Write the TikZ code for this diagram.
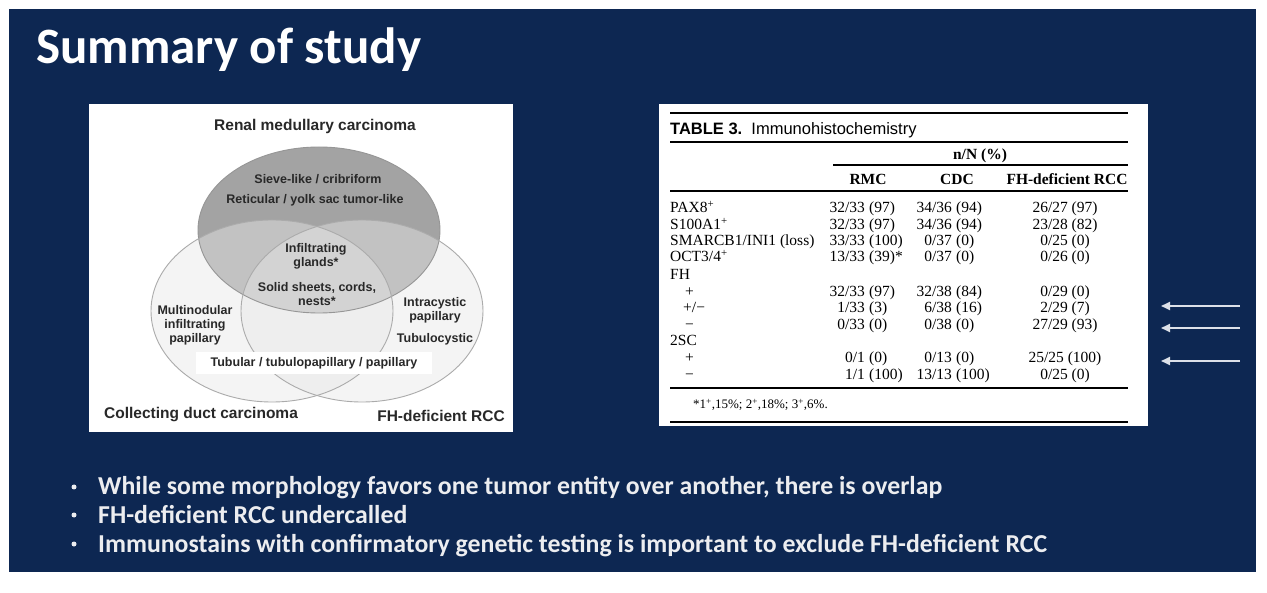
\documentclass[tikz,border=0pt]{standalone}
\usepackage{fontspec}
\setmainfont{Liberation Serif}
\newfontfamily\slidefont{Carlito}
\newfontfamily\vennfont{Liberation Sans}
\newfontfamily\tabsans{Liberation Sans}
\usetikzlibrary{arrows.meta}
\definecolor{navy}{RGB}{13,39,82}
\definecolor{rmcgray}{RGB}{163,163,163}
\definecolor{lowgray}{RGB}{232,232,232}
\definecolor{ringgray}{RGB}{150,150,150}
\definecolor{venntext}{RGB}{40,40,40}
\definecolor{arrowwhite}{RGB}{220,224,232}
\definecolor{bullettext}{RGB}{236,237,240}
\tikzset{
  vlab/.style={font=\vennfont\bfseries\fontsize{12.5}{15}\selectfont, text=venntext, align=center, inner sep=0},
  vbig/.style={font=\vennfont\bfseries\fontsize{15.5}{18}\selectfont, text=venntext, inner sep=0},
  tcell/.style={font=\fontsize{15.5}{16}\selectfont, inner sep=0, text=black},
  thead/.style={font=\bfseries\fontsize{15.5}{16}\selectfont, inner sep=0, text=black},
  bul/.style={font=\slidefont\bfseries\fontsize{25.8}{28}\selectfont, text=bullettext, inner sep=0, anchor=base west},
  buldot/.style={circle, fill=bullettext, inner sep=0, minimum size=5pt},
  arr/.style={draw=arrowwhite, line width=2pt, -{Triangle[length=9pt,width=8pt]}},
}
\newcommand\rmc[3]{\node[tcell,anchor=base east] (rmcn#1) at (865,#1) {#2};\node[tcell,anchor=base west] (rmcp#1) at (869,#1) {#3};}
\newcommand\cdc[3]{\node[tcell,anchor=base east] (cdcn#1) at (952,#1) {#2};\node[tcell,anchor=base west] (cdcp#1) at (956,#1) {#3};}
\newcommand\fhc[2]{\node[tcell,anchor=base] (fh#1) at (1065,#1) {#2};}
\newcommand\rlab[3]{\node[tcell,anchor=base west] (lab#1) at (#2,#1) {#3};}
\begin{document}
\begin{tikzpicture}[x=1pt,y=-1pt]
\path[use as bounding box, fill=white] (0,0) rectangle (1267,593);
\fill[navy] (9,9) rectangle (1256,572);
% title
\node[font=\slidefont\bfseries\fontsize{51}{51}\selectfont, text=white, inner sep=0, anchor=base west] (title) at (36,64) {Summary of study};

% ---------- Venn panel ----------
\fill[white] (89,104) rectangle (513,432);
\fill[rmcgray] (319,230) ellipse [x radius=121, y radius=83];
\fill[lowgray, fill opacity=0.45] (272,311) ellipse [x radius=121, y radius=91];
\fill[lowgray, fill opacity=0.45] (362,311) ellipse [x radius=121, y radius=91];
\draw[ringgray, line width=0.9pt] (319,230) ellipse [x radius=121, y radius=83];
\draw[ringgray!80, line width=0.9pt] (272,311) ellipse [x radius=121, y radius=91];
\draw[ringgray!80, line width=0.9pt] (362,311) ellipse [x radius=121, y radius=91];

\node[vbig] (rmclab) at (315,126) {Renal medullary carcinoma};
\node[vlab] (sieve) at (318,179) {Sieve-like / cribriform};
\node[vlab] (retic) at (315,200) {Reticular / yolk sac tumor-like};
\node[vlab] (infil) at (316,256) {Infiltrating\\[-1pt]glands*};
\node[vlab] (solid) at (317,294) {Solid sheets, cords,\\[-1pt]nests*};
\node[vlab] (multi) at (195,325) {Multinodular\\[-1pt]infiltrating\\[-1pt]papillary};
\node[vlab] (intra) at (435,310) {Intracystic\\[-1pt]papillary};
\node[vlab] (tubcys) at (435,339) {Tubulocystic};
\node[vlab, fill=white, inner xsep=15pt, inner ysep=5pt] (tubular) at (314,363) {Tubular / tubulopapillary / papillary};
\node[vbig] (cdclab) at (201,415) {Collecting duct carcinoma};
\node[vbig] (fhlab) at (441,416) {FH-deficient RCC};

% ---------- Table panel ----------
\fill[white] (659,104) rectangle (1148,426);
\draw[line width=2.2pt] (670,113) -- (1128,113);
\node[font=\tabsans\fontsize{16.5}{16.5}\selectfont, inner sep=0, anchor=base west] (ttitle) at (670,135) {\textbf{TABLE 3.}\ \ Immunohistochemistry};
\draw[line width=1.4pt] (670,142) -- (1128,142);
\node[thead, anchor=base] (nn) at (980,160) {n/N (\%)};
\draw[line width=1.2pt] (833,165) -- (1128,165);
\node[thead, anchor=base] (hrmc) at (868,185) {RMC};
\node[thead, anchor=base] (hcdc) at (957,185) {CDC};
\node[thead, anchor=base] (hfh) at (1067,185) {FH-deficient RCC};
\draw[line width=1.4pt] (670,191) -- (1128,191);

\rlab{213}{670}{PAX8\textsuperscript{+}}
\rmc{213}{32/33}{(97)}\cdc{213}{34/36}{(94)}\fhc{213}{26/27 (97)}
\rlab{230}{670}{S100A1\textsuperscript{+}}
\rmc{230}{32/33}{(97)}\cdc{230}{34/36}{(94)}\fhc{230}{23/28 (82)}
\rlab{246}{670}{SMARCB1/INI1 (loss)}
\rmc{246}{33/33}{(100)}\cdc{246}{0/37}{(0)}\fhc{246}{0/25 (0)}
\rlab{262}{670}{OCT3/4\textsuperscript{+}}
\rmc{262}{13/33}{(39)*}\cdc{262}{0/37}{(0)}\fhc{262}{0/26 (0)}
\rlab{280}{670}{FH}
\rlab{297}{685}{+}
\rmc{297}{32/33}{(97)}\cdc{297}{32/38}{(84)}\fhc{297}{0/29 (0)}
\rlab{313}{683}{+/−}
\rmc{313}{1/33}{(3)}\cdc{313}{6/38}{(16)}\fhc{313}{2/29 (7)}
\rlab{330}{685}{−}
\rmc{330}{0/33}{(0)}\cdc{330}{0/38}{(0)}\fhc{330}{27/29 (93)}
\rlab{346}{670}{2SC}
\rlab{363}{685}{+}
\rmc{363}{0/1}{(0)}\cdc{363}{0/13}{(0)}\fhc{363}{25/25 (100)}
\rlab{380}{685}{−}
\rmc{380}{1/1}{(100)}\cdc{380}{13/13}{(100)}\fhc{380}{0/25 (0)}
\draw[line width=2pt] (670,388) -- (1128,388);
\node[font=\fontsize{13}{14}\selectfont, inner sep=0, anchor=base west] (foot) at (693,409) {*1\textsuperscript{+},15\%; 2\textsuperscript{+},18\%; 3\textsuperscript{+},6\%.};
\draw[line width=2.5pt] (670,422) -- (1128,422);

% ---------- arrows ----------
\coordinate (a1s) at (1240,306); \coordinate (a1e) at (1161,306);
\coordinate (a2s) at (1240,328); \coordinate (a2e) at (1161,328);
\coordinate (a3s) at (1240,361); \coordinate (a3e) at (1161,361);
\draw[arr] (a1s) -- (a1e);
\draw[arr] (a2s) -- (a2e);
\draw[arr] (a3s) -- (a3e);

% ---------- bullets ----------
\node[buldot] (b1d) at (74,487) {};
\node[bul] (b1) at (98,495) {While some morphology favors one tumor entity over another, there is overlap};
\node[buldot] (b2d) at (74,515) {};
\node[bul] (b2) at (98,523) {FH-deficient RCC undercalled};
\node[buldot] (b3d) at (74,544) {};
\node[bul] (b3) at (98,552) {Immunostains with confirmatory genetic testing is important to exclude FH-deficient RCC};
\end{tikzpicture}
\end{document}
